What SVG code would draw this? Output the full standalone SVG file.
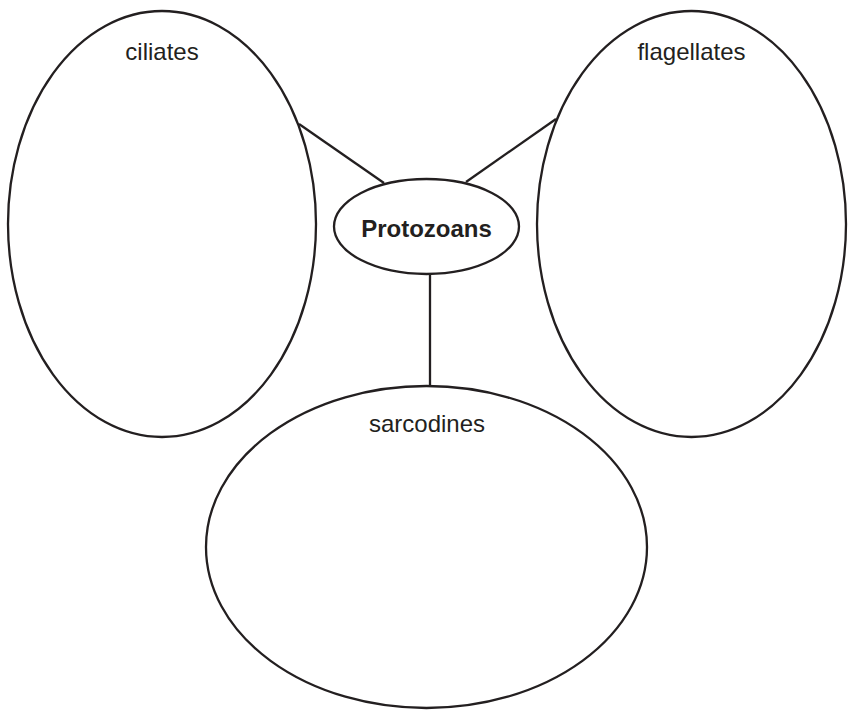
<svg xmlns="http://www.w3.org/2000/svg" width="853" height="710" viewBox="0 0 853 710">
<style>
.shape{fill:none;stroke:#231f20;stroke-width:2.3}
.conn{stroke:#231f20;stroke-width:2.3;fill:none}
.lbl{font-family:"Liberation Sans",Arial,sans-serif;font-size:24px;fill:#231f20;text-anchor:middle}
.bold{font-weight:bold}
</style>
<rect width="853" height="710" fill="#ffffff"/>
<g id="connectors">
<line class="conn" x1="299" y1="124" x2="384" y2="183"/>
<line class="conn" x1="556" y1="119" x2="466" y2="182"/>
<line class="conn" x1="430" y1="274" x2="430" y2="386"/>
</g>
<g id="ciliates">
<ellipse class="shape" cx="162" cy="224" rx="154" ry="213"/>
<text class="lbl" x="162" y="60">ciliates</text>
</g>
<g id="flagellates">
<ellipse class="shape" cx="691.5" cy="224" rx="154.5" ry="213"/>
<text class="lbl" x="691.5" y="60">flagellates</text>
</g>
<g id="protozoans">
<ellipse class="shape" cx="426.5" cy="226.5" rx="92.5" ry="47.5"/>
<text class="lbl bold" x="426.5" y="237">Protozoans</text>
</g>
<g id="sarcodines">
<ellipse class="shape" cx="426.5" cy="547" rx="220.5" ry="161"/>
<text class="lbl" x="427" y="432">sarcodines</text>
</g>
</svg>
